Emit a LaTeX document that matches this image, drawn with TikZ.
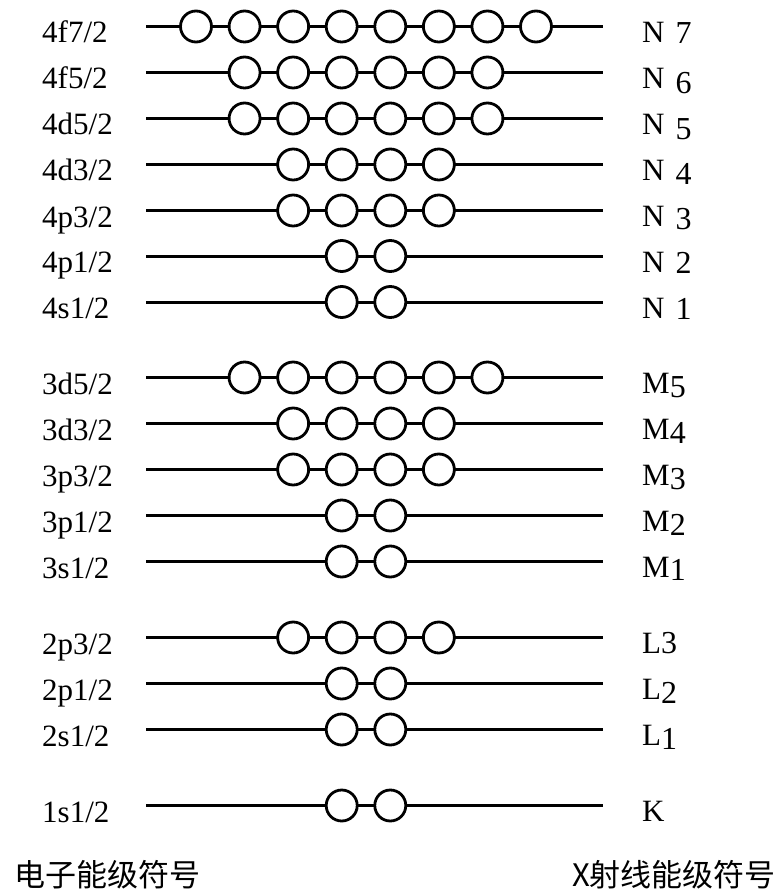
\documentclass[tikz,border=0pt]{standalone}
\usepackage{fontspec}
\setmainfont{Liberation Serif}
\newfontfamily\cjk{Noto Sans CJK SC}
\newcommand\sub[2]{\raisebox{-#1pt}{\fontsize{32}{32}\selectfont #2}}
\tikzset{
  lvl/.style={line width=3pt},
  orb/.style={circle, draw, line width=2.8pt, fill=white, minimum size=31pt, inner sep=0pt},
  lab/.style={anchor=base west, inner sep=0pt, font=\fontsize{31}{32}\selectfont},
  cjklab/.style={inner sep=0pt, font=\cjk\fontsize{31}{33}\selectfont}
}
\newcommand\lvlrow[6]{%
  \coordinate (#1-L) at (146,#2);
  \coordinate (#1-R) at (603,#2);
  \node[lab] (#1-t) at (42,#2+16.5) {#3};
  \node[lab] (#1-x) at (642,#2+16) {#4};
  \draw[lvl] (#1-L) -- (#1-R);
  \foreach \i in {#5,...,#6} \node[orb] (#1-\i) at (196+48.57*\i,#2) {};
}
\begin{document}
\begin{tikzpicture}[x=1pt,y=-1pt]
\useasboundingbox (0,0) rectangle (777,893);
\lvlrow{N7}{26.5}{4f7/2}{N\hspace{11pt}\sub{1}{7}}{0}{7}
\lvlrow{N6}{72.5}{4f5/2}{N\hspace{11pt}\sub{5}{6}}{1}{6}
\lvlrow{N5}{118.5}{4d5/2}{N\hspace{11pt}\sub{5}{5}}{1}{6}
\lvlrow{N4}{164.5}{4d3/2}{N\hspace{11pt}\sub{4}{4}}{2}{5}
\lvlrow{N3}{210.5}{4p3/2}{N\hspace{11pt}\sub{3}{3}}{2}{5}
\lvlrow{N2}{256}{4p1/2}{N\hspace{11pt}\sub{1}{2}}{3}{4}
\lvlrow{N1}{302}{4s1/2}{N\hspace{11pt}\sub{1}{1}}{3}{4}
\lvlrow{M5}{377.5}{3d5/2}{M\sub{4}{5}}{1}{6}
\lvlrow{M4}{423.5}{3d3/2}{M\sub{4}{4}}{2}{5}
\lvlrow{M3}{469.5}{3p3/2}{M\sub{4}{3}}{2}{5}
\lvlrow{M2}{515.5}{3p1/2}{M\sub{4}{2}}{3}{4}
\lvlrow{M1}{561.5}{3s1/2}{M\sub{3}{1}}{3}{4}
\lvlrow{L3}{637.5}{2p3/2}{L\sub{0}{3}}{2}{5}
\lvlrow{L2}{683.5}{2p1/2}{L\sub{4}{2}}{3}{4}
\lvlrow{L1}{729.5}{2s1/2}{L\sub{4}{1}}{3}{4}
\lvlrow{K}{805.5}{1s1/2}{K}{3}{4}
\node[cjklab, anchor=base west] (cn1) at (14,886) {电子能级符号};
\node[cjklab, anchor=base east] (cn2) at (776,886) {X射线能级符号};
\end{tikzpicture}
\end{document}
